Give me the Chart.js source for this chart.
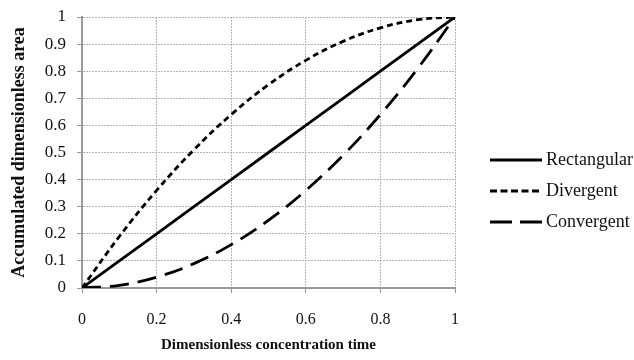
<!DOCTYPE html>
<html>
<head>
<meta charset="utf-8">
<script src="https://cdn.jsdelivr.net/npm/chart.js@4/dist/chart.umd.min.js"></script>
<style>
  html, body { margin: 0; padding: 0; background: #fff; }
  #wrap { position: relative; width: 634px; height: 360px; }
  #legend { position: absolute; left: 490px; top: 144px; font-family: "Liberation Serif", serif; font-size: 18px; color: #111; white-space: nowrap; }
  #legend div { height: 31px; display: flex; align-items: center; }
  #legend svg { margin-right: 4px; }
</style>
</head>
<body>
<div id="wrap">
  <canvas id="chart" width="634" height="360"></canvas>
  <div id="legend"></div>
</div>
<script>
// values
const xValues = [0, 0.1, 0.2, 0.3, 0.4, 0.5, 0.6, 0.7, 0.8, 0.9, 1];
const rectangular = [0, 0.1, 0.2, 0.3, 0.4, 0.5, 0.6, 0.7, 0.8, 0.9, 1];
const divergent = [0, 0.19, 0.36, 0.51, 0.64, 0.75, 0.84, 0.91, 0.96, 0.99, 1];
const convergent = [0, 0.01, 0.04, 0.09, 0.16, 0.25, 0.36, 0.49, 0.64, 0.81, 1];
const xTicks = [0, 0.2, 0.4, 0.6, 0.8, 1];
const seriesNames = ["Rectangular", "Divergent", "Convergent"];
const dashes = [[], [6, 4], [19, 9]];
const legendDashes = [[], [7, 3.5], [22, 8]];

const serif = "'Liberation Serif', 'Times New Roman', serif";
const toPoints = (ys) => ys.map((y, i) => ({ x: xValues[i], y: y }));
const fmt = (v) => String(+(+v).toFixed(1));

const chart = new Chart(document.getElementById("chart").getContext("2d"), {
  type: "line",
  data: {
    datasets: [rectangular, divergent, convergent].map((ys, i) => ({
      label: seriesNames[i],
      data: toPoints(ys),
      borderColor: "#000",
      borderWidth: 2.8,
      borderDash: dashes[i],
      pointRadius: 0,
      tension: i === 0 ? 0 : 0.4,
      fill: false
    }))
  },
  options: {
    responsive: false,
    animation: false,
    layout: { padding: { top: 17, right: 179, left: 0, bottom: 0 } },
    plugins: { legend: { display: false }, tooltip: { enabled: false } },
    scales: {
      x: {
        type: "linear",
        min: 0, max: 1,
        afterFit: (s) => { s.height = 72; s.paddingLeft = 0; s.paddingRight = 0; },
        afterBuildTicks: (s) => { s.ticks = xTicks.map(v => ({ value: v })); },
        ticks: { font: { family: serif, size: 16 }, color: "#111", padding: 17, callback: fmt },
        grid: { color: "#b4b4b4", lineWidth: 1, tickColor: "#999", tickLength: 5, tickBorderDash: [] },
        border: { color: "#999", width: 2, dash: [2, 1] },
        title: { display: true, text: "Dimensionless concentration time", font: { family: serif, size: 15, weight: "bold" }, color: "#111", padding: { top: 0, bottom: 6 } }
      },
      y: {
        min: 0, max: 1,
        afterFit: (s) => { s.width = 82; s.paddingTop = 0; s.paddingBottom = 0; },
        ticks: { stepSize: 0.1, font: { family: serif, size: 17 }, color: "#111", padding: 11, callback: fmt },
        grid: { color: "#b4b4b4", lineWidth: 1, tickColor: "#999", tickLength: 5, tickBorderDash: [] },
        border: { color: "#999", width: 2, dash: [2, 1] },
        title: { display: true, text: "Accumulated dimensionless area", font: { family: serif, size: 18, weight: "bold" }, color: "#111", padding: { top: 9, bottom: 0 } }
      }
    }
  }
});

// legend with line samples
const legend = document.getElementById("legend");
seriesNames.forEach((name, i) => {
  const row = document.createElement("div");
  const dash = legendDashes[i].length ? ` stroke-dasharray="${legendDashes[i].join(" ")}"` : "";
  row.innerHTML = `<svg width="52" height="6"><line x1="0" y1="3" x2="52" y2="3" stroke="#000" stroke-width="3"${dash}/></svg><span>${name}</span>`;
  legend.appendChild(row);
});
</script>
</body>
</html>
